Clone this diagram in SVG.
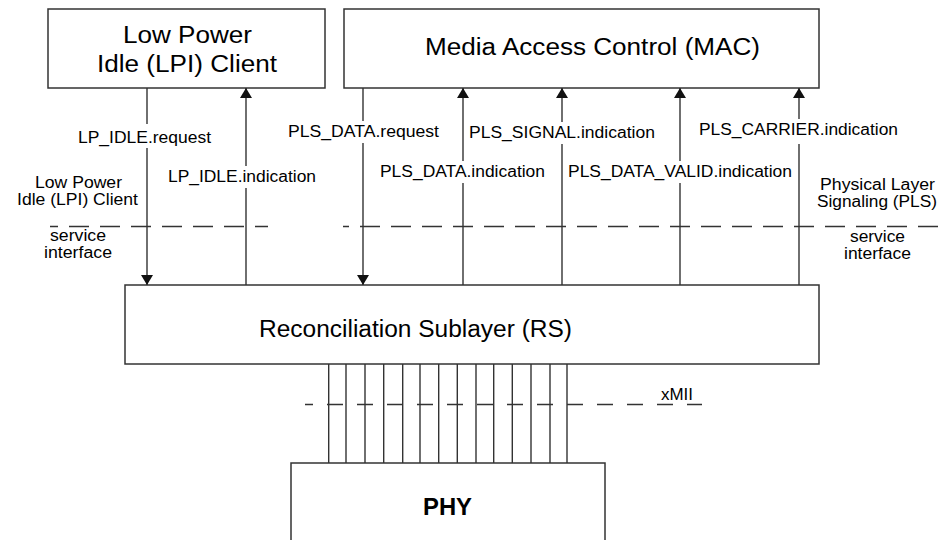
<svg xmlns="http://www.w3.org/2000/svg" width="938" height="540" viewBox="0 0 938 540">
<style>
.box{fill:#fff;stroke:#333;stroke-width:1.5}
.ln{stroke:#333;stroke-width:1.4;fill:none}
.dash{stroke:#333;stroke-width:1.4;fill:none;stroke-dasharray:20 11}
.xdash{stroke:#333;stroke-width:1.4;fill:none;stroke-dasharray:16 14}
.t{font-family:"Liberation Sans",Arial,sans-serif;fill:#000}
.title{font-size:23px}
.lbl{font-size:16px}
.bg{fill:#fff}
</style>
<defs>
<marker id="ah" markerUnits="userSpaceOnUse" markerWidth="12" markerHeight="12" viewBox="0 0 10 12" refX="10" refY="6" orient="auto">
<path d="M0,0 L10,6 L0,12 z" fill="#111"/>
</marker>
</defs>
<rect width="938" height="540" fill="#fff"/>

<g id="lpi-client">
<rect class="box" x="48" y="9" width="277" height="79"/>
<text class="t title" x="123" y="43" textLength="129" lengthAdjust="spacingAndGlyphs">Low Power</text>
<text class="t title" x="97" y="72" textLength="180" lengthAdjust="spacingAndGlyphs">Idle (LPI) Client</text>
</g>

<g id="mac">
<rect class="box" x="344" y="9" width="475" height="79"/>
<text class="t title" x="425" y="55" textLength="335" lengthAdjust="spacingAndGlyphs">Media Access Control (MAC)</text>
</g>

<g id="rs">
<rect class="box" x="125" y="285" width="694" height="79"/>
<text class="t title" x="259" y="337" textLength="313" lengthAdjust="spacingAndGlyphs">Reconciliation Sublayer (RS)</text>
</g>

<g id="phy">
<rect class="box" x="291" y="463" width="314" height="90"/>
<text class="t title" x="423" y="515" font-weight="bold" textLength="49" lengthAdjust="spacingAndGlyphs">PHY</text>
</g>

<g id="interfaces">
<line class="dash" x1="50" y1="226.5" x2="268" y2="226.5" stroke-dashoffset="12"/>
<line class="dash" x1="343" y1="226.5" x2="938" y2="226.5" stroke-dashoffset="14"/>
<line class="xdash" x1="305" y1="404.5" x2="702" y2="404.5" stroke-dashoffset="8"/>
</g>

<g id="connectors">
<line class="ln" x1="147" y1="88" x2="147" y2="285" marker-end="url(#ah)"/>
<line class="ln" x1="246" y1="285" x2="246" y2="88" marker-end="url(#ah)"/>
<line class="ln" x1="363" y1="88" x2="363" y2="285" marker-end="url(#ah)"/>
<line class="ln" x1="463" y1="285" x2="463" y2="88" marker-end="url(#ah)"/>
<line class="ln" x1="562" y1="285" x2="562" y2="88" marker-end="url(#ah)"/>
<line class="ln" x1="680" y1="285" x2="680" y2="88" marker-end="url(#ah)"/>
<line class="ln" x1="799" y1="285" x2="799" y2="88" marker-end="url(#ah)"/>
<g id="xmii-bus">
<line class="ln" x1="328.7" y1="364" x2="328.7" y2="463"/>
<line class="ln" x1="346" y1="364" x2="346" y2="463"/>
<line class="ln" x1="365" y1="364" x2="365" y2="463"/>
<line class="ln" x1="383.7" y1="364" x2="383.7" y2="463"/>
<line class="ln" x1="402.7" y1="364" x2="402.7" y2="463"/>
<line class="ln" x1="420" y1="364" x2="420" y2="463"/>
<line class="ln" x1="438.7" y1="364" x2="438.7" y2="463"/>
<line class="ln" x1="457.3" y1="364" x2="457.3" y2="463"/>
<line class="ln" x1="476" y1="364" x2="476" y2="463"/>
<line class="ln" x1="493.7" y1="364" x2="493.7" y2="463"/>
<line class="ln" x1="512.3" y1="364" x2="512.3" y2="463"/>
<line class="ln" x1="531" y1="364" x2="531" y2="463"/>
<line class="ln" x1="550" y1="364" x2="550" y2="463"/>
<line class="ln" x1="567" y1="364" x2="567" y2="463"/>
</g>
</g>

<g id="labels">
<rect class="bg" x="76" y="124" width="137" height="24"/>
<text class="t lbl" x="78" y="143" textLength="133" lengthAdjust="spacingAndGlyphs">LP_IDLE.request</text>
<rect class="bg" x="166" y="166" width="152" height="22"/>
<text class="t lbl" x="168" y="182" textLength="148" lengthAdjust="spacingAndGlyphs">LP_IDLE.indication</text>
<rect class="bg" x="286" y="121" width="155" height="22"/>
<text class="t lbl" x="288" y="137" textLength="151" lengthAdjust="spacingAndGlyphs">PLS_DATA.request</text>
<rect class="bg" x="378" y="161" width="169" height="22"/>
<text class="t lbl" x="380" y="177" textLength="165" lengthAdjust="spacingAndGlyphs">PLS_DATA.indication</text>
<rect class="bg" x="467" y="122" width="190" height="22"/>
<text class="t lbl" x="469" y="138" textLength="186" lengthAdjust="spacingAndGlyphs">PLS_SIGNAL.indication</text>
<rect class="bg" x="566" y="161" width="228" height="22"/>
<text class="t lbl" x="568" y="177" textLength="224" lengthAdjust="spacingAndGlyphs">PLS_DATA_VALID.indication</text>
<rect class="bg" x="697" y="119" width="203" height="25"/>
<text class="t lbl" x="699" y="135" textLength="199" lengthAdjust="spacingAndGlyphs">PLS_CARRIER.indication</text>

<text class="t lbl" x="35" y="188" textLength="87" lengthAdjust="spacingAndGlyphs">Low Power</text>
<text class="t lbl" x="17" y="205" textLength="121" lengthAdjust="spacingAndGlyphs">Idle (LPI) Client</text>
<text class="t lbl" x="50" y="241" textLength="56" lengthAdjust="spacingAndGlyphs">service</text>
<text class="t lbl" x="44" y="258" textLength="68" lengthAdjust="spacingAndGlyphs">interface</text>
<text class="t lbl" x="820" y="190" textLength="115" lengthAdjust="spacingAndGlyphs">Physical Layer</text>
<text class="t lbl" x="817" y="207" textLength="120" lengthAdjust="spacingAndGlyphs">Signaling (PLS)</text>
<text class="t lbl" x="850" y="242" textLength="55" lengthAdjust="spacingAndGlyphs">service</text>
<text class="t lbl" x="844" y="259" textLength="67" lengthAdjust="spacingAndGlyphs">interface</text>
<text class="t lbl" x="661" y="400" textLength="32" lengthAdjust="spacingAndGlyphs">xMII</text>
</g>
</svg>
